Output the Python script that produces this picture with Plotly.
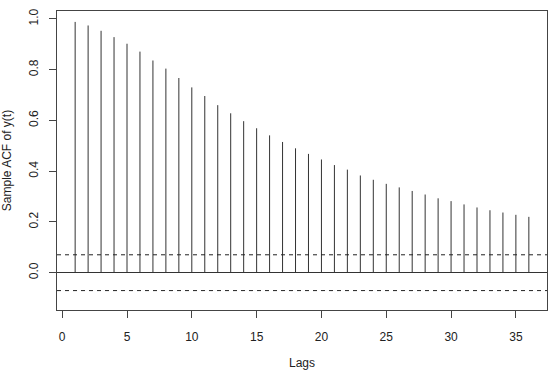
import plotly.graph_objects as go

lags = list(range(1, 37))
acf_values = [0.988, 0.974, 0.953, 0.928, 0.902, 0.871, 0.836, 0.804, 0.767, 0.730,
              0.696, 0.660, 0.628, 0.597, 0.569, 0.541, 0.515, 0.490, 0.468, 0.446,
              0.424, 0.406, 0.383, 0.366, 0.350, 0.336, 0.322, 0.308, 0.293, 0.282,
              0.269, 0.257, 0.246, 0.237, 0.228, 0.220]
ci_bound = 0.0705
x_ticks = [0, 5, 10, 15, 20, 25, 30, 35]
y_ticks = [0.0, 0.2, 0.4, 0.6, 0.8, 1.0]
y_tick_labels = ["0.0", "0.2", "0.4", "0.6", "0.8", "1.0"]

xs, ys = [], []
for k, v in zip(lags, acf_values):
    xs += [k, k, None]
    ys += [0, v, None]

fig = go.Figure()
fig.add_trace(go.Scatter(x=xs, y=ys, mode="lines",
                         line=dict(color="#333", width=1),
                         hoverinfo="skip", showlegend=False))

for yv in (ci_bound, -ci_bound):
    fig.add_shape(type="line", xref="paper", x0=0, x1=1, yref="y", y0=yv, y1=yv,
                  line=dict(color="#222", width=1, dash="4px,4px"))

font = dict(family="Liberation Sans, Arial, sans-serif", size=12, color="#222")

fig.update_layout(
    width=552, height=372,
    margin=dict(l=57, r=4, t=11, b=60),
    paper_bgcolor="white", plot_bgcolor="white",
    font=font,
    showlegend=False,
    xaxis=dict(range=[-0.4, 37.4], tickvals=x_ticks, ticks="outside", ticklen=7,
               tickcolor="#444", showline=True, mirror=True, linecolor="#444",
               linewidth=1, showgrid=False, zeroline=False,
               ticklabelstandoff=9,
               title=dict(text="Lags", standoff=15, font=font)),
    yaxis=dict(range=[-0.147, 1.031], tickvals=y_ticks, ticktext=y_tick_labels,
               tickangle=-90, ticks="outside", ticklen=7, tickcolor="#444",
               showline=True, mirror=True, linecolor="#444", linewidth=1,
               showgrid=False, zeroline=True, zerolinecolor="#333", zerolinewidth=1,
               ticklabelstandoff=6,
               title=dict(text="Sample ACF of y(t)", standoff=14, font=font)),
)

fig.write_html("out.html")
